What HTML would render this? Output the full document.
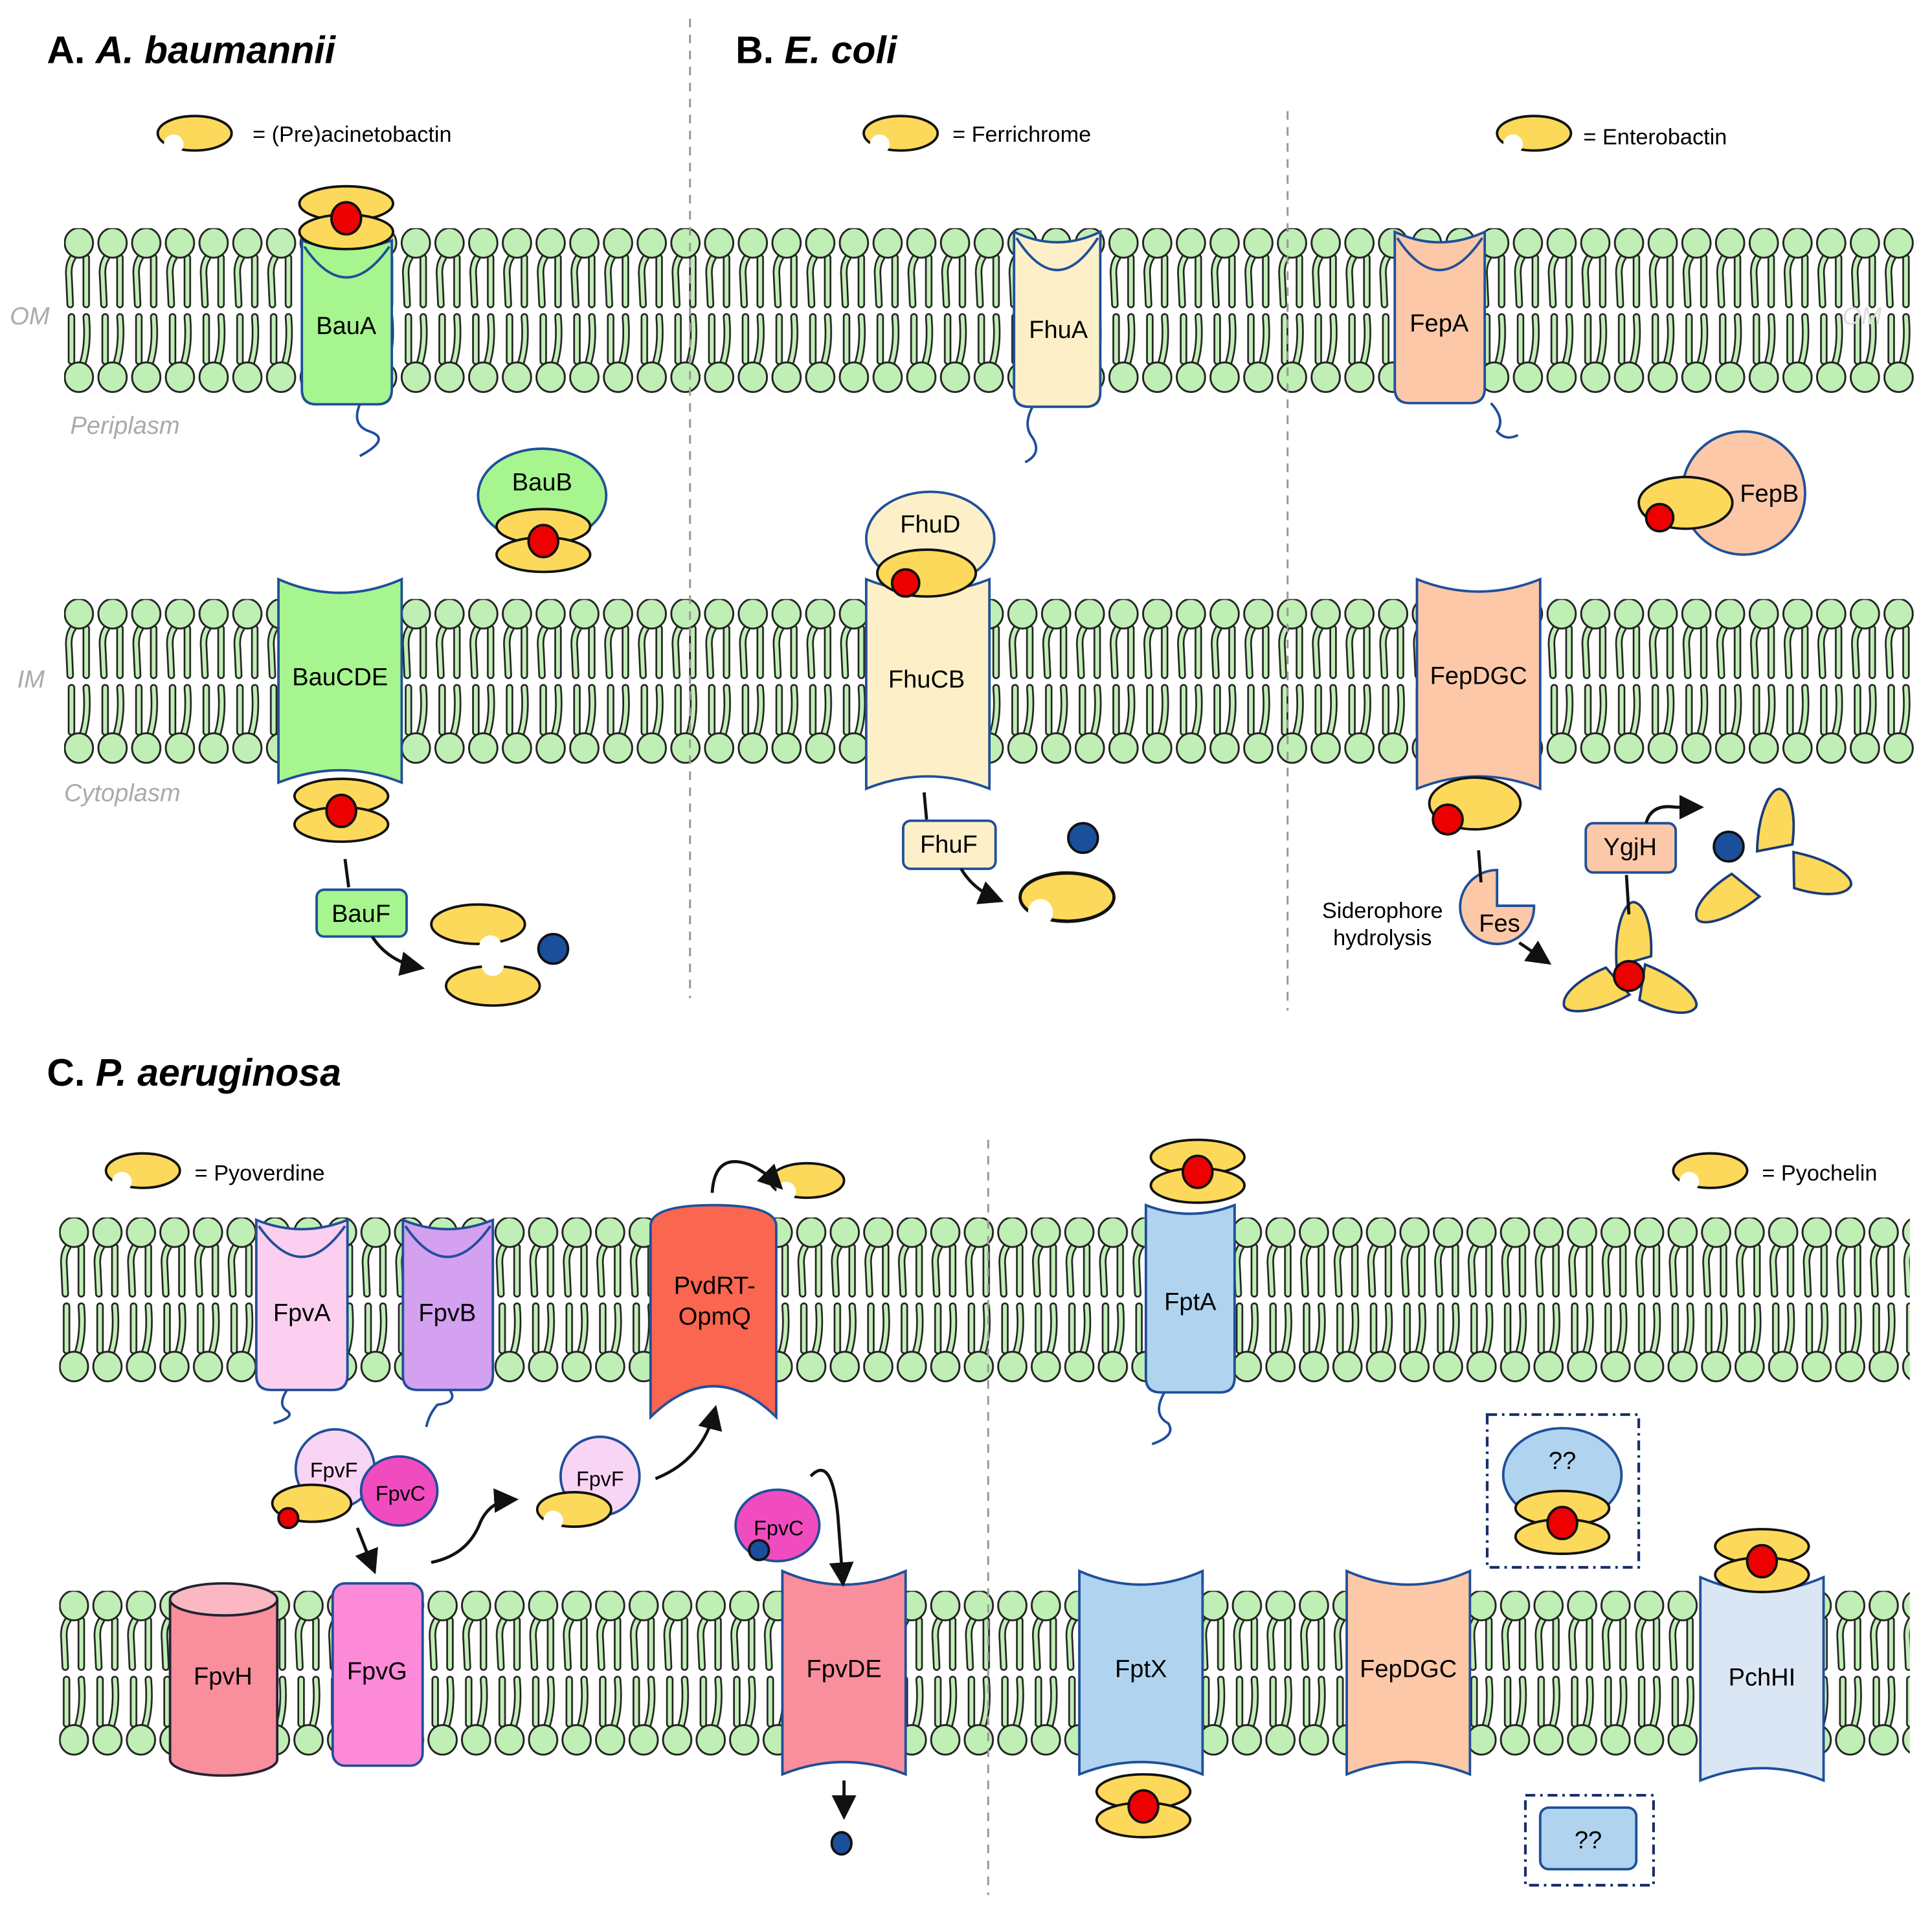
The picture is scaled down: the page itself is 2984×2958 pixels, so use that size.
<!DOCTYPE html>
<html><head><meta charset="utf-8"><style>
html,body{margin:0;padding:0;background:#fff}
svg{display:block}
text{font-family:"Liberation Sans",Arial,sans-serif}
</style></head><body>
<svg width="2984" height="2958" viewBox="0 0 1568 1554" xmlns="http://www.w3.org/2000/svg">
<defs>
<g id="lip">
 <g fill="none" stroke="#222" stroke-width="6" stroke-linecap="round">
  <path d="M-5,24 Q-9,30 -8,40 L-7,62"/><path d="M6,24 L6,62"/>
  <path d="M-6,72 L-6,108"/><path d="M6,72 Q8,95 3,110"/>
 </g>
 <g fill="none" stroke="#c0efb6" stroke-width="3.2" stroke-linecap="round">
  <path d="M-5,24 Q-9,30 -8,40 L-7,62"/><path d="M6,24 L6,62"/>
  <path d="M-6,72 L-6,108"/><path d="M6,72 Q8,95 3,110"/>
 </g>
 <ellipse cx="0" cy="12" rx="11.5" ry="12" fill="#c0efb6" stroke="#222" stroke-width="1.5"/>
 <ellipse cx="0" cy="121" rx="11.5" ry="12" fill="#c0efb6" stroke="#222" stroke-width="1.5"/>
</g>
<pattern id="m1" width="27.35" height="140" patternUnits="userSpaceOnUse" patternTransform="translate(64,185)"><use href="#lip"/><use href="#lip" x="27.35"/></pattern>
<pattern id="m2" width="27.35" height="140" patternUnits="userSpaceOnUse" patternTransform="translate(64,486)"><use href="#lip"/><use href="#lip" x="27.35"/></pattern>
<pattern id="m3" width="27.2" height="140" patternUnits="userSpaceOnUse" patternTransform="translate(60,988)"><use href="#lip"/><use href="#lip" x="27.2"/></pattern>
<pattern id="m4" width="27.2" height="140" patternUnits="userSpaceOnUse" patternTransform="translate(60,1291)"><use href="#lip"/><use href="#lip" x="27.2"/></pattern>
<g id="bite"><ellipse cx="0" cy="0" rx="30" ry="14" fill="#fcd95a" stroke="#111" stroke-width="2"/><circle cx="-17" cy="9" r="8" fill="#fff"/></g>
<g id="sand"><ellipse cx="0" cy="-12" rx="38" ry="14" fill="#fcd95a" stroke="#111" stroke-width="2"/><ellipse cx="0" cy="11" rx="38" ry="14" fill="#fcd95a" stroke="#111" stroke-width="2"/><ellipse cx="0" cy="0" rx="12" ry="13" fill="#e00" stroke="#111" stroke-width="2"/></g>
<path id="pet" d="M-14,0 C-16,-30 -8,-52 0,-52 C10,-50 15,-30 14,-8 Z" fill="#fcd95a" stroke="#1a3a7a" stroke-width="2"/>
<marker id="ar" markerWidth="8" markerHeight="8" refX="6" refY="4" orient="auto" markerUnits="strokeWidth"><path d="M0,0 L8,4 L0,8 Z" fill="#111"/></marker>
</defs>
<rect width="1568" height="1554" fill="#fff"/>

<rect x="52" y="185" width="1503" height="134" fill="url(#m1)"/>
<rect x="52" y="486" width="1503" height="134" fill="url(#m2)"/>
<rect x="48" y="988" width="1502" height="134" fill="url(#m3)"/>
<rect x="48" y="1291" width="1502" height="134" fill="url(#m4)"/>

<g stroke="#999" stroke-width="1.6" stroke-dasharray="7,6">
<line x1="560" y1="15" x2="560" y2="810"/><line x1="1045" y1="90" x2="1045" y2="820"/><line x1="802" y1="925" x2="802" y2="1538"/>
</g>

<text x="38" y="51" font-size="31" font-weight="bold">A. <tspan font-style="italic">A. baumannii</tspan></text>
<text x="597" y="51" font-size="31" font-weight="bold">B. <tspan font-style="italic">E. coli</tspan></text>
<text x="38" y="881" font-size="31" font-weight="bold">C. <tspan font-style="italic">P. aeruginosa</tspan></text>

<use href="#bite" x="158" y="108"/><text x="205" y="115" font-size="18">= (Pre)acinetobactin</text>
<use href="#bite" x="731" y="108"/><text x="773" y="115" font-size="18">= Ferrichrome</text>
<use href="#bite" x="1245" y="108"/><text x="1285" y="117" font-size="18">= Enterobactin</text>
<use href="#bite" x="116" y="950"/><text x="158" y="958" font-size="18">= Pyoverdine</text>
<use href="#bite" x="1388" y="950"/><text x="1430" y="958" font-size="18">= Pyochelin</text>

<g fill="#aaa" font-style="italic" font-size="20">
<text x="8" y="263">OM</text><text x="57" y="352">Periplasm</text><text x="14" y="558">IM</text><text x="52" y="650">Cytoplasm</text>
<text x="1495" y="263" fill="#ddd">OM</text>
</g>

<g stroke="#1f4f9a" stroke-width="2">
<path d="M245,195 Q281,208 318,195 L318,316 Q318,328 306,328 L257,328 Q245,328 245,316 Z" fill="#a6f58f"/>
<path d="M247,200 Q281,250 316,200" fill="none"/>
<path d="M292,328 Q285,345 300,350 Q318,356 292,370" fill="none"/>
<path d="M823,188 Q858,205 893,188 L893,318 Q893,330 881,330 L835,330 Q823,330 823,318 Z" fill="#fdf0c8"/>
<path d="M825,193 Q858,245 891,193" fill="none"/>
<path d="M838,330 Q830,345 838,355 Q846,368 832,375" fill="none"/>
<path d="M1132,188 Q1168,205 1205,188 L1205,315 Q1205,327 1193,327 L1144,327 Q1132,327 1132,315 Z" fill="#fcc8a8"/>
<path d="M1134,193 Q1168,245 1203,193" fill="none"/>
<path d="M1210,327 Q1222,340 1215,350 Q1222,358 1232,353" fill="none"/>
<path d="M208,990 Q245,1005 282,990 L282,1116 Q282,1128 270,1128 L220,1128 Q208,1128 208,1116 Z" fill="#fccff0"/>
<path d="M210,995 Q245,1045 280,995" fill="none"/>
<path d="M233,1128 Q225,1140 233,1145 Q240,1150 222,1155" fill="none"/>
<path d="M327,990 Q363,1005 400,990 L400,1116 Q400,1128 388,1128 L339,1128 Q327,1128 327,1116 Z" fill="#d4a0f0"/>
<path d="M329,995 Q363,1045 398,995" fill="none"/>
<path d="M365,1128 Q372,1138 355,1140 Q348,1148 346,1158" fill="none"/>
<path d="M930,978 Q966,992 1002,978 L1002,1118 Q1002,1130 990,1130 L942,1130 Q930,1130 930,1118 Z" fill="#b0d4ef"/>
<path d="M945,1130 Q935,1148 948,1155 Q955,1165 935,1172" fill="none"/>
</g>

<g stroke="#1f4f9a" stroke-width="2">
<path d="M226,470 Q276,492 326,470 L326,635 Q276,615 226,635 Z" fill="#a6f58f"/>
<path d="M703,470 Q753,490 803,470 L803,640 Q753,620 703,640 Z" fill="#fdf0c8"/>
<path d="M1150,470 Q1200,490 1250,470 L1250,640 Q1200,620 1150,640 Z" fill="#fcc8a8"/>
<path d="M635,1275 Q685,1297 735,1275 L735,1440 Q685,1420 635,1440 Z" fill="#f98e9c"/>
<path d="M876,1275 Q926,1297 976,1275 L976,1440 Q926,1420 876,1440 Z" fill="#b0d4ef"/>
<path d="M1093,1275 Q1143,1297 1193,1275 L1193,1440 Q1143,1420 1093,1440 Z" fill="#fcc8a8"/>
<path d="M1380,1280 Q1430,1302 1480,1280 L1480,1445 Q1430,1425 1380,1445 Z" fill="#dbe6f5"/>
<path d="M528,995 Q528,978 579,978 Q630,978 630,995 L630,1150 Q579,1100 528,1150 Z" fill="#fa6650"/>
<rect x="270" y="1285" width="73" height="148" rx="10" fill="#fd8ad8"/>
</g>
<g stroke="#223" stroke-width="2">
<path d="M138,1298 L138,1428 A43.5,13 0 0 0 225,1428 L225,1298" fill="#f98e9c"/>
<ellipse cx="181.5" cy="1298" rx="43.5" ry="13" fill="#fbb8c2"/>
</g>

<g stroke="#1f4f9a" stroke-width="2">
<ellipse cx="440" cy="402" rx="52" ry="38" fill="#a6f58f"/>
<ellipse cx="755" cy="437" rx="52" ry="38" fill="#fdf0c8"/>
<circle cx="1415" cy="400" r="50" fill="#fcc8a8"/>
<circle cx="272" cy="1192" r="32" fill="#f9d5f5"/>
<ellipse cx="324" cy="1210" rx="31" ry="28" fill="#f04cc0"/>
<circle cx="487" cy="1198" r="32" fill="#f9d5f5"/>
<ellipse cx="631" cy="1238" rx="34" ry="29" fill="#f04cc0"/>
<ellipse cx="1268" cy="1197" rx="48" ry="38" fill="#b0d4ef"/>
<rect x="257" y="722" width="73" height="38" rx="6" fill="#a6f58f"/>
<rect x="733" y="666" width="75" height="39" rx="6" fill="#fdf0c8"/>
<rect x="1287" y="668" width="73" height="40" rx="6" fill="#fcc8a8"/>
<rect x="1250" y="1467" width="78" height="50" rx="7" fill="#b0d4ef"/>
<path d="M1215,706 L1215,735 L1245,735 A30,30 0 1 1 1215,706 Z" fill="#fcc8a8"/>
</g>
<g fill="none" stroke="#1a2f6a" stroke-width="2.2" stroke-dasharray="8,4,2,4">
<rect x="1207" y="1148" width="123" height="124"/>
<rect x="1238" y="1457" width="104" height="73"/>
</g>

<use href="#sand" x="281" y="177"/>
<use href="#sand" x="441" y="439"/>
<use href="#sand" x="277" y="658"/>
<use href="#sand" x="972" y="951"/>
<use href="#sand" x="1268" y="1236"/>
<use href="#sand" x="928" y="1466"/>
<use href="#sand" x="1430" y="1267"/>
<g stroke="#111" stroke-width="2">
<ellipse cx="752" cy="465" rx="40" ry="19" fill="#fcd95a"/><circle cx="735" cy="473" r="11" fill="#e00"/>
<ellipse cx="1368" cy="408" rx="38" ry="21" fill="#fcd95a"/><circle cx="1347" cy="420" r="11" fill="#e00"/>
<ellipse cx="1197" cy="652" rx="37" ry="21" fill="#fcd95a"/><circle cx="1175" cy="665" r="12" fill="#e00"/>
<ellipse cx="253" cy="1220" rx="32" ry="15" fill="#fcd95a"/><circle cx="234" cy="1232" r="8" fill="#e00"/>
</g>
<g stroke="#111" stroke-width="2" fill="#fcd95a">
<ellipse cx="388" cy="750" rx="38" ry="16"/><circle cx="398" cy="768" r="9" fill="#fff" stroke="none"/>
<ellipse cx="400" cy="800" rx="38" ry="16"/><circle cx="400" cy="783" r="9" fill="#fff" stroke="none"/>
</g>
<use href="#bite" transform="translate(866,728) scale(1.27,1.4)"/>
<use href="#bite" transform="translate(655,958)"/>
<use href="#bite" transform="translate(466,1225)"/>
<g fill="#1a4f9c" stroke="#111" stroke-width="2">
<circle cx="449" cy="770" r="12"/><circle cx="879" cy="680" r="12"/><circle cx="1403" cy="687" r="12"/>
<circle cx="616" cy="1258" r="8"/><ellipse cx="683" cy="1496" rx="8" ry="9"/>
</g>
<g transform="translate(1322,792)">
<use href="#pet" transform="translate(4,-8)"/><use href="#pet" transform="rotate(-115) translate(0,-6)"/><use href="#pet" transform="rotate(115) translate(0,-8)"/>
<circle r="12" fill="#e00" stroke="#111" stroke-width="2"/>
</g>
<use href="#pet" transform="translate(1440,692) rotate(5)"/>
<use href="#pet" transform="translate(1452,705) rotate(105)"/>
<use href="#pet" transform="translate(1420,716) rotate(-125)"/>

<g fill="none" stroke="#111" stroke-width="2.5">
<path d="M280,697 L283,720"/>
<path d="M302,760 Q315,780 340,785" marker-end="url(#ar)"/>
<path d="M750,643 L752,665"/>
<path d="M780,705 Q790,722 810,730" marker-end="url(#ar)"/>
<path d="M1200,690 L1202,716"/>
<path d="M1233,765 L1255,780" marker-end="url(#ar)"/>
<path d="M1322,742 L1320,710"/>
<path d="M1336,668 Q1340,652 1360,655 L1378,655" marker-end="url(#ar)"/>
<path d="M578,968 Q580,935 608,945 Q620,950 632,962" marker-end="url(#ar)"/>
<path d="M532,1200 Q570,1185 580,1145" marker-end="url(#ar)"/>
<path d="M290,1240 L303,1273" marker-end="url(#ar)"/>
<path d="M350,1268 Q380,1262 390,1235 Q398,1218 416,1217" marker-end="url(#ar)"/>
<path d="M658,1198 Q675,1180 680,1230 L684,1283" marker-end="url(#ar)"/>
<path d="M685,1445 L685,1472" marker-end="url(#ar)"/>
</g>

<g font-size="20" text-anchor="middle">
<text x="281" y="271">BauA</text><text x="440" y="398">BauB</text><text x="276" y="556">BauCDE</text><text x="293" y="748">BauF</text>
<text x="859" y="274">FhuA</text><text x="755" y="432">FhuD</text><text x="752" y="558">FhuCB</text><text x="770" y="692">FhuF</text>
<text x="1168" y="269">FepA</text><text x="1436" y="407">FepB</text><text x="1200" y="555">FepDGC</text><text x="1323" y="694">YgjH</text><text x="1217" y="756">Fes</text>
<text x="1122" y="745" font-size="18">Siderophore</text><text x="1122" y="767" font-size="18">hydrolysis</text>
<text x="245" y="1072">FpvA</text><text x="363" y="1072">FpvB</text>
<text x="580" y="1050">PvdRT-</text><text x="580" y="1075">OpmQ</text>
<text x="271" y="1199" font-size="17">FpvF</text><text x="325" y="1218" font-size="17">FpvC</text><text x="487" y="1206" font-size="17">FpvF</text><text x="632" y="1246" font-size="17">FpvC</text>
<text x="181" y="1367">FpvH</text><text x="306" y="1363">FpvG</text><text x="685" y="1361">FpvDE</text>
<text x="966" y="1063">FptA</text><text x="926" y="1361">FptX</text><text x="1143" y="1361">FepDGC</text><text x="1430" y="1368">PchHI</text>
<text x="1268" y="1192">??</text><text x="1289" y="1500">??</text>
</g>
</svg>
</body></html>
